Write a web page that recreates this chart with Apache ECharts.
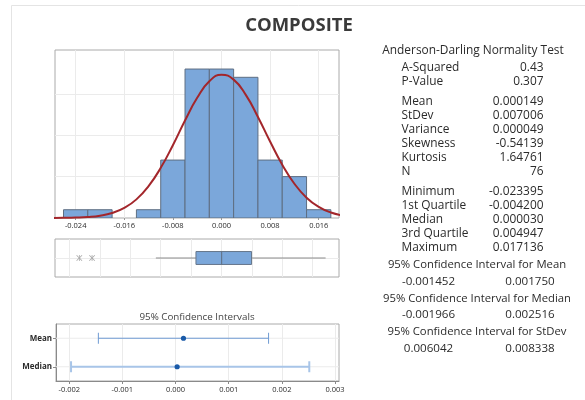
<!DOCTYPE html>
<html><head><meta charset="utf-8">
<script src="https://cdn.jsdelivr.net/npm/echarts@6/dist/echarts.min.js"></script>
<style>html,body{margin:0;padding:0;background:#fff}#c{width:585px;height:400px}</style>
</head><body><div id="c"></div>
<script>
// ---------- data ----------
const chartTitle = 'COMPOSITE';
const histBinCenters = [-0.024, -0.020, -0.016, -0.012, -0.008, -0.004, 0.000, 0.004, 0.008, 0.012, 0.016];
const histCounts = [1, 1, 0, 1, 7, 18, 18, 17, 7, 5, 1];
const histBinWidth = 0.004;
const histTickLabels = [-0.024, -0.016, -0.008, 0.000, 0.008, 0.016];
const curveX = [-0.028, -0.026, -0.024, -0.022, -0.020, -0.018, -0.016, -0.014, -0.012, -0.010, -0.008, -0.006, -0.004, -0.002, 0.000, 0.002, 0.004, 0.006, 0.008, 0.010, 0.012, 0.014, 0.016, 0.018, 0.020];
const curveY = [0.005, 0.016, 0.046, 0.117, 0.277, 0.605, 1.215, 2.25, 3.85, 6.06, 8.80, 11.78, 14.52, 16.52, 17.31, 16.72, 14.88, 12.21, 9.24, 6.44, 4.14, 2.45, 1.34, 0.67, 0.31];
const boxStats = [-0.0108, -0.004200, 0.000030, 0.004947, 0.017136]; // whisker low, Q1, median, Q3, whisker high
const boxOutliers = [-0.023395, -0.0213];
const boxGridValues = [-0.025, -0.020, -0.015, -0.010, -0.005, 0.000, 0.005, 0.010, 0.015];
const ciTitle = '95% Confidence Intervals';
const ciCategories = ['Mean', 'Median'];
const ciLow = [-0.001452, -0.001966];
const ciHigh = [0.001750, 0.002516];
const ciCenter = [0.000149, 0.000030];
const ciTickLabels = [-0.002, -0.001, 0.000, 0.001, 0.002, 0.003];
const statsTitle = 'Anderson-Darling Normality Test';
const statsGroups = [
  [['A-Squared', '0.43'], ['P-Value', '0.307']],
  [['Mean', '0.000149'], ['StDev', '0.007006'], ['Variance', '0.000049'], ['Skewness', '-0.54139'], ['Kurtosis', '1.64761'], ['N', '76']],
  [['Minimum', '-0.023395'], ['1st Quartile', '-0.004200'], ['Median', '0.000030'], ['3rd Quartile', '0.004947'], ['Maximum', '0.017136']]
];
const ciTextTitles = ['95% Confidence Interval for Mean', '95% Confidence Interval for Median', '95% Confidence Interval for StDev'];
const ciTextValues = [['-0.001452', '0.001750'], ['-0.001966', '0.002516'], ['0.006042', '0.008338']];

// ---------- chart ----------
const FONT = '"Open Sans", "Noto Sans", sans-serif';
const TXT = '#2b2b2b';
const GRIDC = '#ebebeb';
const chart = echarts.init(document.getElementById('c'), null, {renderer: 'canvas'});

const xMin = -0.0274, xMax = 0.01934;
const ciMin = -0.002249, ciMax = 0.003075;

function fmt3(v) { return v.toFixed(3); }

// graphic texts
const graphics = [];
graphics.push({type: 'rect', shape: {x: 11.5, y: 5.5, width: 620, height: 420}, style: {fill: null, stroke: '#e4e4e4', lineWidth: 1}, silent: true, z: -10});
graphics.push({type: 'text', x: 299, y: 26, style: {text: chartTitle, font: 'bold 18.5px ' + FONT, fill: '#3a3a3a', align: 'center', verticalAlign: 'middle'}});
graphics.push({type: 'text', x: 197, y: 317, style: {text: ciTitle, font: '9.8px ' + FONT, fill: '#444', align: 'center', verticalAlign: 'middle'}});
graphics.push({type: 'text', x: 473, y: 51, style: {text: statsTitle, font: '11.9px ' + FONT, fill: TXT, align: 'center', verticalAlign: 'middle'}});
const groupStarts = [67.7, 101.7, 191.7];
const rowStep = 13.9;
statsGroups.forEach((g, gi) => {
  g.forEach((row, ri) => {
    const y = groupStarts[gi] + ri * rowStep;
    graphics.push({type: 'text', x: 401.5, y: y, style: {text: row[0], font: '11.9px ' + FONT, fill: TXT, align: 'left', verticalAlign: 'middle'}});
    graphics.push({type: 'text', x: 543.5, y: y, style: {text: row[1], font: '11.9px ' + FONT, fill: TXT, align: 'right', verticalAlign: 'middle'}});
  });
});
ciTextTitles.forEach((t, i) => {
  const y = 265 + i * 33.3;
  graphics.push({type: 'text', x: 477, y: y, style: {text: t, font: '11.3px ' + FONT, fill: TXT, align: 'center', verticalAlign: 'middle'}});
  graphics.push({type: 'text', x: 428.5, y: y + 16.7, style: {text: ciTextValues[i][0], font: '11.6px ' + FONT, fill: TXT, align: 'center', verticalAlign: 'middle'}});
  graphics.push({type: 'text', x: 530, y: y + 16.7, style: {text: ciTextValues[i][1], font: '11.6px ' + FONT, fill: TXT, align: 'center', verticalAlign: 'middle'}});
});

const asterisk = 'path://M4.4,0h1.2v10h-1.2z M0,0.85L0.85,0L10,9.15L9.15,10Z M10,0.85L9.15,0L0,9.15L0.85,10Z';

const option = {
  animation: false,
  backgroundColor: '#fff',
  textStyle: {fontFamily: FONT},
  graphic: graphics,
  grid: [
    {left: 55, top: 50, width: 284, height: 168, show: true, borderColor: '#aaaaaa', borderWidth: 1, backgroundColor: '#fff'},
    {left: 55, top: 239, width: 284, height: 38, show: true, borderColor: '#aaaaaa', borderWidth: 1, backgroundColor: '#fff'},
    {left: 56, top: 324, width: 283, height: 57, show: true, borderColor: '#aaaaaa', borderWidth: 1, backgroundColor: '#fff'}
  ],
  xAxis: [
    {gridIndex: 0, type: 'value', min: xMin, max: xMax,
      axisLine: {show: false},
      axisTick: {show: true, length: 2, inside: false, customValues: histTickLabels, lineStyle: {color: '#999'}},
      axisLabel: {customValues: histTickLabels, formatter: fmt3, fontSize: 7.5, color: TXT, margin: 4, fontFamily: FONT},
      splitLine: {show: true, lineStyle: {color: GRIDC, width: 1}}},
    {gridIndex: 1, type: 'value', min: xMin, max: xMax,
      axisLine: {show: false}, axisTick: {show: false, customValues: boxGridValues},
      axisLabel: {show: false, customValues: boxGridValues},
      splitLine: {show: true, lineStyle: {color: GRIDC, width: 1}}},
    {gridIndex: 2, type: 'value', min: ciMin, max: ciMax,
      axisLine: {show: true, onZero: false, lineStyle: {color: '#8a8a8a'}},
      axisTick: {show: true, length: 3, customValues: ciTickLabels, lineStyle: {color: '#8a8a8a'}},
      axisLabel: {customValues: ciTickLabels, formatter: fmt3, fontSize: 7.5, color: TXT, margin: 5, fontFamily: FONT},
      splitLine: {show: true, lineStyle: {color: GRIDC, width: 1}}}
  ],
  yAxis: [
    {gridIndex: 0, type: 'value', min: 0, max: 20.3,
      axisLine: {show: false}, axisTick: {show: false, customValues: [5, 10, 15]},
      axisLabel: {show: false, customValues: [5, 10, 15]},
      splitLine: {show: true, lineStyle: {color: GRIDC, width: 1}}},
    {gridIndex: 1, type: 'value', min: 0, max: 2,
      axisLine: {show: false}, axisTick: {show: false, customValues: [1]},
      axisLabel: {show: false, customValues: [1]},
      splitLine: {show: true, lineStyle: {color: GRIDC, width: 1}}},
    {gridIndex: 2, type: 'category', data: ciCategories.slice().reverse(),
      axisLine: {show: true, onZero: false, lineStyle: {color: '#8a8a8a'}},
      axisTick: {show: true, length: 3, alignWithLabel: true, lineStyle: {color: '#8a8a8a'}},
      axisLabel: {fontSize: 8, color: TXT, margin: 4, fontFamily: FONT, fontWeight: 'bold'},
      splitLine: {show: false}}
  ],
  series: [
    {type: 'custom', xAxisIndex: 0, yAxisIndex: 0, clip: true,
      data: histBinCenters.map((c, i) => [c - histBinWidth / 2, c + histBinWidth / 2, histCounts[i]]),
      renderItem: function (params, api) {
        const h = api.value(2);
        if (!h) return null;
        const p0 = api.coord([api.value(0), 0]);
        const p1 = api.coord([api.value(1), h]);
        return {type: 'rect', shape: {x: p0[0], y: p1[1], width: p1[0] - p0[0], height: p0[1] - p1[1]},
          style: {fill: '#7ba7da', stroke: '#5e6e82', lineWidth: 1}};
      }},
    {type: 'line', xAxisIndex: 0, yAxisIndex: 0, smooth: true, symbol: 'none', clip: true,
      data: curveX.map((x, i) => [x, curveY[i]]),
      lineStyle: {color: '#a3262b', width: 2}},
    {type: 'custom', xAxisIndex: 1, yAxisIndex: 1,
      data: [boxStats],
      renderItem: function (params, api) {
        const lo = api.coord([api.value(0), 1]);
        const q1 = api.coord([api.value(1), 1.34]);
        const md = api.coord([api.value(2), 1]);
        const q3 = api.coord([api.value(3), 0.66]);
        const hi = api.coord([api.value(4), 1]);
        const yc = lo[1];
        return {type: 'group', children: [
          {type: 'line', shape: {x1: lo[0], y1: yc, x2: q1[0], y2: yc}, style: {stroke: '#8c8c8c', lineWidth: 1.2}},
          {type: 'line', shape: {x1: q3[0], y1: yc, x2: hi[0], y2: yc}, style: {stroke: '#8c8c8c', lineWidth: 1.2}},
          {type: 'rect', shape: {x: q1[0], y: q1[1], width: q3[0] - q1[0], height: q3[1] - q1[1]}, style: {fill: '#7ba7da', stroke: '#66768a', lineWidth: 1}},
          {type: 'line', shape: {x1: md[0], y1: q1[1], x2: md[0], y2: q3[1]}, style: {stroke: '#5e6e82', lineWidth: 1}}
        ]};
      }},
    {type: 'scatter', xAxisIndex: 1, yAxisIndex: 1, symbol: asterisk, symbolSize: 6,
      data: boxOutliers.map(v => [v, 1]), itemStyle: {color: '#8c8c8c'}},
    {type: 'custom', xAxisIndex: 2, yAxisIndex: 2,
      data: ciCategories.map((c, i) => [c, ciLow[i], ciHigh[i], ciCenter[i]]),
      encode: {y: 0, x: [1, 2, 3]},
      renderItem: function (params, api) {
        const cat = api.value(0);
        const a = api.coord([api.value(1), cat]);
        const b = api.coord([api.value(2), cat]);
        const m = api.coord([api.value(3), cat]);
        const cs = params.coordSys;
        const y = a[1];
        const isMean = params.dataIndex === 0;
        const col = isMean ? '#6f9bd3' : '#a8c5e8';
        const lw = isMean ? 1 : 2;
        return {type: 'group', children: [
          {type: 'line', shape: {x1: cs.x, y1: y, x2: cs.x + cs.width, y2: y}, style: {stroke: GRIDC, lineWidth: 1}},
          {type: 'line', shape: {x1: a[0], y1: y, x2: b[0], y2: y}, style: {stroke: col, lineWidth: lw}},
          {type: 'line', shape: {x1: a[0], y1: y - 5.5, x2: a[0], y2: y + 5.5}, style: {stroke: col, lineWidth: lw}},
          {type: 'line', shape: {x1: b[0], y1: y - 5.5, x2: b[0], y2: y + 5.5}, style: {stroke: col, lineWidth: lw}},
          {type: 'circle', shape: {cx: m[0], cy: y, r: 2.6}, style: {fill: '#1a5aa8'}}
        ]};
      }}
  ]
};
chart.setOption(option);
</script>
</body></html>
